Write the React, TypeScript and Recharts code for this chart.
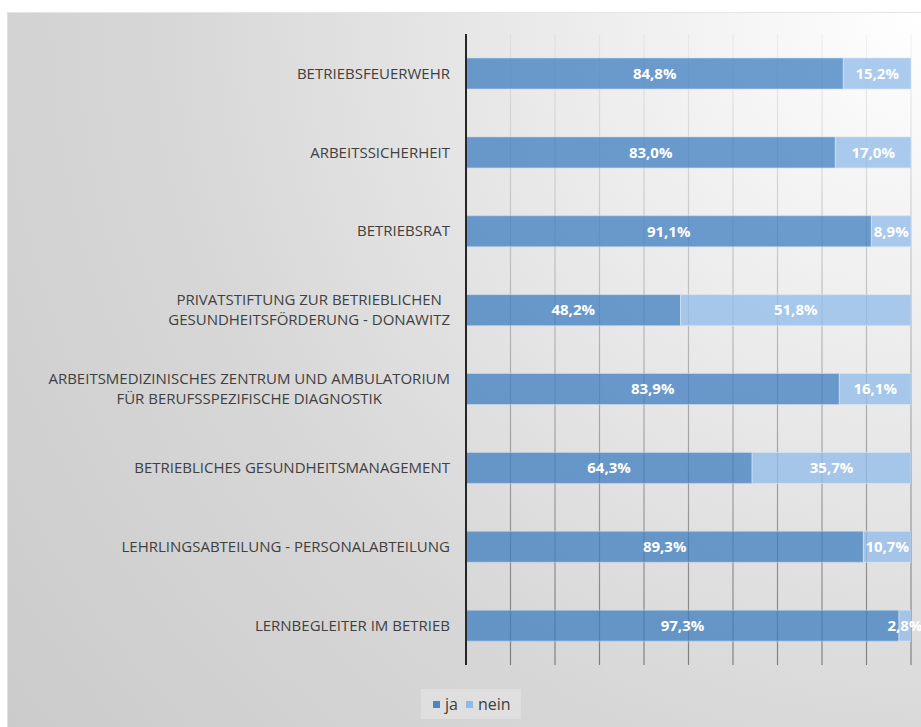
import { BarChart, Bar, XAxis, YAxis, CartesianGrid, LabelList } from "recharts"

const categories = [
  "BETRIEBSFEUERWEHR",
  "ARBEITSSICHERHEIT",
  "BETRIEBSRAT",
  "PRIVATSTIFTUNG ZUR BETRIEBLICHEN\nGESUNDHEITSFÖRDERUNG - DONAWITZ",
  "ARBEITSMEDIZINISCHES ZENTRUM UND AMBULATORIUM\nFÜR BERUFSSPEZIFISCHE DIAGNOSTIK",
  "BETRIEBLICHES GESUNDHEITSMANAGEMENT",
  "LEHRLINGSABTEILUNG - PERSONALABTEILUNG",
  "LERNBEGLEITER IM BETRIEB",
]
const ja = [84.8, 83.0, 91.1, 48.2, 83.9, 64.3, 89.3, 97.3]
const nein = [15.2, 17.0, 8.9, 51.8, 16.1, 35.7, 10.7, 2.8]
const xTicks = [0, 10, 20, 30, 40, 50, 60, 70, 80, 90, 100]

const data = categories.map((name, i) => ({ name, ja: ja[i], nein: nein[i] }))

const FONT = "'Open Sans', sans-serif"
const LABEL_SIZE = 15
const fmt = (v: any) => Number(v).toFixed(1).replace(".", ",") + "%"

let ctx: CanvasRenderingContext2D | null = null
function measure(text: string) {
  if (!ctx) ctx = document.createElement("canvas").getContext("2d")
  if (!ctx) return text.length * 9
  ctx.font = `${LABEL_SIZE}px ${FONT}`
  return ctx.measureText(text).width
}

// category label, multi-line ones centred on each other and right-aligned as a block
function CategoryTick(props: any) {
  const { x, y, payload } = props
  const lines = String(payload.value).split("\n")
  const right = x - 8
  const widest = Math.max(...lines.map(measure))
  const cx = right - widest / 2
  const lh = 20
  const y0 = y - ((lines.length - 1) * lh) / 2
  return (
    <g>
      {lines.map((l, i) => (
        <text
          key={i}
          x={lines.length > 1 ? cx : right}
          y={y0 + i * lh}
          dy="0.35em"
          textAnchor={lines.length > 1 ? "middle" : "end"}
          fill="#404040"
          fontSize={LABEL_SIZE}
          fontFamily={FONT}
        >
          {l}
        </text>
      ))}
    </g>
  )
}

function LegendBox() {
  const item = (color: string, label: string) => (
    <span style={{ display: "inline-flex", alignItems: "center", marginRight: 8 }}>
      <span style={{ width: 7, height: 7, background: color, marginRight: 5, display: "inline-block" }} />
      {label}
    </span>
  )
  return (
    <div
      style={{
        position: "absolute",
        left: 413,
        top: 676,
        height: 30,
        background: "rgba(255,255,255,0.25)",
        padding: "0 2px 0 12px",
        fontFamily: FONT,
        fontSize: 16,
        color: "#404040",
        display: "flex",
        alignItems: "center",
      }}
    >
      {item("#4f86c0", "ja")}
      {item("#8fb9e9", "nein")}
    </div>
  )
}

export default function App() {
  return (
    <div
      style={{
        position: "absolute",
        left: 7,
        top: 12,
        width: 914,
        height: 715,
        background:
          "radial-gradient(circle at 100% 0%, #ffffff 0%, #ececec 30%, #d7d7d7 65%, #cbcbcb 100%)",
        borderTop: "1px solid #e4e4e4",
        borderLeft: "1px solid #e0e0e0",
        boxSizing: "border-box",
      }}
    >
      <BarChart
        width={913}
        height={714}
        data={data}
        layout="vertical"
        margin={{ top: 21, right: 10, bottom: 62, left: 0 }}
        barSize={31}
      >
        <defs>
          <linearGradient id="gridGrad" gradientUnits="userSpaceOnUse" x1="0" y1="21" x2="0" y2="652">
            <stop offset="0%" stopColor="#000" stopOpacity={0.04} />
            <stop offset="100%" stopColor="#000" stopOpacity={0.42} />
          </linearGradient>
        </defs>
        <CartesianGrid horizontal={false} stroke="url(#gridGrad)" strokeWidth={1.2} />
        <XAxis type="number" domain={[0, 100]} ticks={xTicks} hide allowDataOverflow />
        <YAxis
          type="category"
          dataKey="name"
          width={458}
          axisLine={{ stroke: "#262626", strokeWidth: 2 }}
          tickLine={false}
          tick={<CategoryTick />}
          interval={0}
        />
        <Bar dataKey="ja" stackId="a" fill="#3d7cbf" fillOpacity={0.75} stroke="#c9dbef" strokeOpacity={0.6} isAnimationActive={false}>
          <LabelList dataKey="ja" position="center" formatter={fmt} fill="#ffffff" fontSize={15} fontWeight={700} fontFamily={FONT} />
        </Bar>
        <Bar dataKey="nein" stackId="a" fill="#8fb9e9" fillOpacity={0.75} stroke="#d8e6f5" strokeOpacity={0.7} isAnimationActive={false}>
          <LabelList dataKey="nein" position="center" formatter={fmt} fill="#ffffff" fontSize={15} fontWeight={700} fontFamily={FONT} />
        </Bar>
      </BarChart>
      <LegendBox />
    </div>
  )
}
